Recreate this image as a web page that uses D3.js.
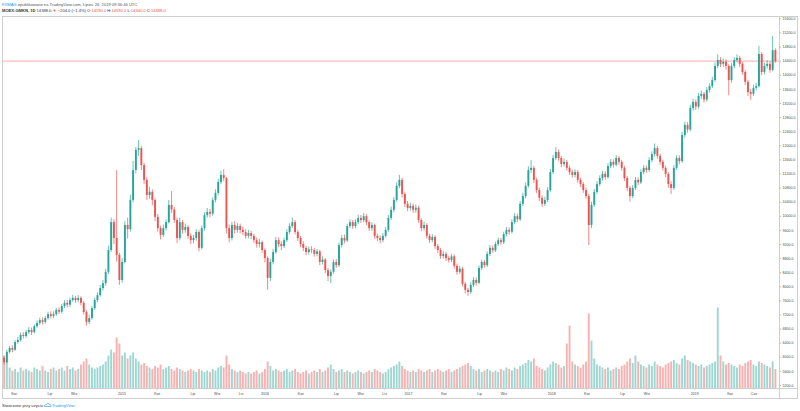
<!DOCTYPE html>
<html><head><meta charset="utf-8">
<script src="https://cdn.jsdelivr.net/npm/d3@7"></script>
<style>body{margin:0;background:#fff}svg{display:block;font-family:"Liberation Sans",Arial,sans-serif}</style>
</head><body><svg id="c" width="800" height="411"></svg>
<script>
// weekly candles, first week starting on this Monday
const firstWeek = "2014-02-24";
const firstOpen = 5900;
const close = [
5970,5850,6140,6250,6200,6420,6480,6620,6590,6700,
6760,6700,6870,6960,7040,6990,7100,7210,7160,7210,
7330,7280,7440,7530,7480,7610,7670,7610,7670,7530,
7270,6990,7100,7380,7610,7750,7950,8090,8410,9030,
9820,9370,8890,8180,8690,9740,9620,10450,11300,11870,
11920,11440,11020,10590,10680,10450,9970,9650,9460,9650,
9820,10310,10180,9880,9370,9820,9600,9680,9430,9310,
9370,9540,9090,9650,10020,10110,10060,10450,10650,10960,
11160,11070,9650,9370,9740,9600,9710,9600,9540,9430,
9510,9430,9310,9200,9250,9030,8800,8240,8690,8970,
9310,9200,9140,9310,9540,9710,9820,9540,9370,9200,
9090,8970,9050,9030,8920,8990,8690,8760,8460,8290,
8410,8690,8600,9170,9370,9300,9710,9820,9710,9820,
9940,9880,9990,9820,9650,9740,9430,9370,9310,9430,
9600,9940,10170,10450,10850,11020,10620,10340,10220,10280,
10170,10230,9880,9650,9740,9430,9310,9400,9140,9030,
8860,8920,8800,8750,8850,8580,8410,8500,8070,7900,
7840,8040,8180,8100,8520,8690,8600,8920,9090,9020,
9200,9310,9250,9480,9600,9550,9820,9990,9900,10340,
10560,10850,11300,11360,11020,10730,10510,10340,10450,10730,
11240,11640,11810,11640,11470,11530,11360,11240,11160,11240,
11020,10900,10730,10560,9740,10310,10680,10900,11070,11190,
11100,11410,11530,11450,11640,11530,11360,11070,10790,10560,
10790,11020,10950,11240,11360,11300,11580,11750,11920,11700,
11530,11360,11190,10900,10790,11360,11640,11550,12290,12580,
12450,13060,13230,13100,13400,13460,13300,13570,13680,13850,
14250,14420,14310,14370,14250,13850,14250,14420,14480,14310,
14080,13800,13510,13460,13630,13680,14590,14080,14250,14310,
14140,14700,14388];
const high = [
6050,6020,6200,6310,6330,6470,6560,6680,6700,6760,
6840,6830,6920,7030,7110,7120,7160,7280,7290,7290,
7390,7400,7500,7600,7610,7680,7760,7730,7750,7720,
7580,7320,7190,7440,7680,7830,8040,8180,8500,9150,
9950,9900,11300,8950,8800,9850,9950,10600,11550,11950,
12150,11980,11500,11100,10820,10750,10500,10050,9720,9750,
9900,10450,10700,10250,9950,9950,9880,9780,9730,9500,
9460,9620,9600,9720,10100,10220,10200,10520,10750,11050,
11280,11320,11100,9750,9830,9850,9800,9780,9700,9620,
9600,9580,9490,9380,9340,9300,9080,8850,8780,9060,
9400,9390,9280,9380,9620,9790,9950,9880,9600,9430,
9280,9150,9130,9140,9090,9060,9040,8850,8800,8520,
8480,8760,8780,9240,9450,9470,9780,9900,9880,9900,
10030,10020,10080,10050,9870,9820,9780,9500,9440,9510,
9680,10020,10260,10530,10950,11160,11080,10680,10420,10370,
10350,10320,10290,9930,9830,9790,9490,9480,9450,9200,
9090,9000,8980,8870,8920,8900,8640,8580,8550,8130,
7960,8120,8260,8250,8590,8760,8750,8990,9170,9160,
9270,9380,9370,9550,9680,9670,9900,10080,10060,10420,
10650,10950,11400,11580,11420,11080,10800,10580,10540,10810,
11330,11730,11950,11880,11700,11620,11590,11420,11310,11320,
11300,11080,10960,10800,10620,10400,10760,10980,11150,11270,
11260,11490,11610,11600,11720,11700,11590,11420,11130,10850,
10870,11100,11090,11320,11440,11430,11660,11830,12050,11980,
11760,11590,11420,11240,10980,11440,11720,11720,12380,12670,
12660,13150,13320,13300,13480,13560,13520,13650,13760,13940,
14350,14580,14500,14460,14440,14300,14330,14500,14580,14540,
14360,14130,13860,13600,13720,13770,14820,14640,14340,14420,
14380,15100,14750];
const low = [
5700,5780,5820,6090,6130,6170,6370,6430,6520,6540,
6650,6620,6660,6820,6900,6920,6940,7050,7090,7100,
7160,7210,7230,7380,7400,7420,7560,7530,7550,7460,
7200,6880,6930,7050,7330,7550,7700,7880,8020,8350,
8980,9200,8700,8040,8100,8650,9350,9550,10380,11200,
11700,11300,10900,10450,10480,10300,9850,9550,9330,9400,
9580,9780,10080,9800,9230,9300,9500,9520,9350,9200,
9220,9300,8990,9040,9580,9950,9960,10000,10380,10580,
10900,10980,9500,9250,9300,9500,9520,9500,9450,9350,
9360,9340,9230,9100,9100,8950,8680,7900,8150,8620,
8920,9110,9030,9080,9260,9480,9650,9470,9280,9110,
9000,8880,8900,8940,8840,8850,8600,8620,8370,8150,
8090,8360,8520,8550,9100,9220,9250,9650,9630,9650,
9760,9800,9820,9740,9570,9580,9350,9280,9220,9250,
9380,9550,9880,10100,10400,10780,10520,10250,10130,10150,
10080,10090,9800,9560,9580,9350,9230,9250,9060,8950,
8780,8790,8720,8670,8690,8500,8330,8350,8000,7800,
7730,7780,7980,8020,8060,8460,8530,8550,8860,8950,
8970,9140,9180,9200,9420,9470,9500,9760,9820,9850,
10280,10490,10800,11220,10930,10640,10420,10250,10280,10390,
10680,11180,11580,11560,11380,11400,11280,11160,11080,11090,
10940,10820,10650,10480,9170,9650,10250,10620,10840,11000,
11020,11050,11350,11370,11400,11450,11280,10990,10700,10400,
10500,10730,10870,10900,11180,11220,11250,11520,11680,11620,
11450,11280,11100,10800,10620,10740,11300,11460,11500,12220,
12360,12400,12980,13000,13040,13320,13210,13240,13500,13620,
13800,14180,14220,14230,14150,13420,13780,14180,14350,14220,
14000,13700,13400,13290,13400,13560,13640,13990,14010,14180,
14060,14100,14340];
const volume = [
1300,1100,900,700,600,650,550,700,600,650,
600,550,700,650,600,750,600,550,650,700,
600,650,700,600,750,650,700,600,650,800,
900,1000,800,700,650,700,750,800,900,1100,
1300,1200,1700,1500,1100,1200,1000,1100,1200,1000,
900,800,850,750,700,650,750,700,800,650,
700,750,650,600,700,650,600,550,600,650,
600,550,650,600,550,600,550,650,600,700,
750,700,1100,800,650,600,550,600,550,500,
550,500,550,600,500,550,650,900,750,600,
650,600,550,600,650,550,600,650,550,500,
550,600,500,550,600,550,650,550,600,700,
800,650,550,600,650,550,600,550,500,550,
600,550,500,550,600,550,650,600,550,500,
550,650,700,750,800,900,750,650,600,550,
600,550,650,600,550,600,650,550,600,650,
600,550,600,650,550,600,650,700,750,800,
850,750,650,600,650,550,600,650,600,550,
600,550,650,600,700,650,600,700,650,750,
800,850,950,900,1000,750,700,650,600,700,
800,900,850,800,700,750,1500,2100,900,800,
750,700,800,900,2500,1600,1000,800,750,700,
650,700,600,650,700,650,750,800,900,1000,
850,1100,900,800,750,700,800,750,900,800,
750,700,800,850,900,950,850,800,1000,1100,
950,900,850,800,750,800,700,750,800,850,
900,2700,1100,900,800,850,800,750,700,800,
750,850,900,950,800,750,900,850,800,750,
700,900,650];
const priceTicks = [5200,5600,6000,6400,6800,7200,7600,8000,8400,8800,9200,9600,10000,10400,10800,11200,11600,12000,12400,12800,13200,13600,14000,14400,14800,15200,15600];
const timeTickDates = ["2014-04-01","2014-07-01","2014-09-01","2015-01-01","2015-04-01","2015-07-01","2015-09-01","2015-11-01","2016-01-01","2016-04-01","2016-07-01","2016-09-01","2016-11-01","2017-01-01","2017-04-01","2017-07-01","2017-09-01","2018-01-01","2018-04-01","2018-07-01","2018-09-01","2019-01-01","2019-04-01","2019-06-01"];
const timeTickLabels = ["Kwi","Lip","Wrz","2015","Kwi","Lip","Wrz","Lis","2016","Kwi","Lip","Wrz","Lis","2017","Kwi","Lip","Wrz","2018","Kwi","Lip","Wrz","2019","Kwi","Cze"];
const lastPrice = 14388;

const UP = "#26a69a", DOWN = "#ef5350";
const svg = d3.select("#c");
svg.append("rect").attr("width",800).attr("height",411).attr("fill","#fff");

const parse = d3.utcParse("%Y-%m-%d");
const DAY = 864e5;
const start = parse(firstWeek);
const data = close.map((c,i)=>({
  date: new Date(start.getTime() + (7*i+3.5)*DAY),
  o: i===0 ? firstOpen : close[i-1], h: high[i], l: low[i], c: c, v: volume[i]
}));

const pL=2, pR=779.5, pT=16.5, axisY=388.5;
const x = d3.scaleUtc().domain([start, parse("2019-07-27")]).range([0, 776]);
const y = d3.scaleLinear().domain([5200, 15200]).range([385, 32.5]);
const yv = d3.scaleLinear().domain([0, 3000]).range([axisY, axisY-90]);

svg.append("clipPath").attr("id","clip").append("rect")
  .attr("x",pL+0.5).attr("y",pT).attr("width",pR-pL-0.5).attr("height",axisY-pT);
const plot = svg.append("g").attr("clip-path","url(#clip)");

const bw = 1.9;
plot.append("g").selectAll("rect").data(data).join("rect")
  .attr("x",d=>x(d.date)-bw/2).attr("width",bw)
  .attr("y",d=>yv(d.v)).attr("height",d=>axisY-yv(d.v))
  .attr("fill",d=>d.c>=d.o?UP:DOWN).attr("opacity",0.45);

plot.append("line").attr("x1",pL).attr("x2",pR)
  .attr("y1",y(lastPrice)).attr("y2",y(lastPrice))
  .attr("stroke",DOWN).attr("stroke-width",0.6).attr("opacity",0.8);

const cg = plot.append("g");
cg.selectAll("line").data(data).join("line")
  .attr("x1",d=>x(d.date)).attr("x2",d=>x(d.date))
  .attr("y1",d=>y(d.h)).attr("y2",d=>y(d.l))
  .attr("stroke",d=>d.c>=d.o?UP:DOWN).attr("stroke-width",0.7);
cg.selectAll("rect").data(data).join("rect")
  .attr("x",d=>x(d.date)-bw/2).attr("width",bw)
  .attr("y",d=>y(Math.max(d.o,d.c)))
  .attr("height",d=>Math.max(0.6, Math.abs(y(d.o)-y(d.c))))
  .attr("fill",d=>d.c>=d.o?UP:DOWN);

const fr = svg.append("g").attr("stroke","#cfcfcf").attr("stroke-width",1).attr("fill","none");
fr.append("rect").attr("x",pL+0.5).attr("y",pT).attr("width",797-pL).attr("height",398.5-pT);
fr.append("line").attr("x1",pL).attr("x2",798).attr("y1",axisY).attr("y2",axisY);
fr.append("line").attr("x1",pR).attr("x2",pR).attr("y1",pT).attr("y2",398.5);

const ya = svg.append("g").attr("transform",`translate(${pR},0)`)
  .call(d3.axisRight(y).tickValues(priceTicks.filter(v=>y(v)>pT+1)).tickSize(1.5).tickPadding(1.5).tickFormat(d3.format(".1f")));
ya.select(".domain").remove();
ya.selectAll("text").attr("font-size",3.6).attr("fill","#4a4a4a").attr("font-family","Liberation Sans, Arial, sans-serif");
ya.selectAll("line").attr("stroke","#bbb");

const tg = svg.append("g");
timeTickDates.forEach((ds,i)=>{
  const tx = x(parse(ds));
  tg.append("line").attr("x1",tx).attr("x2",tx).attr("y1",axisY).attr("y2",axisY+1.5).attr("stroke","#bbb").attr("stroke-width",0.6);
  tg.append("text").attr("x",tx).attr("y",395.3).attr("text-anchor","middle")
    .attr("font-size",3.6).attr("fill","#4a4a4a").text(timeTickLabels[i]);
});

const h1 = svg.append("text").attr("x",2).attr("y",5.8).attr("font-size",4.1).attr("fill","#555");
h1.append("tspan").attr("fill","#2196f3").text("FXMAG");
h1.append("tspan").text(" opublikowano na TradingView.com, Lipiec 26, 2019 09:36:46 UTC");
const h2 = svg.append("text").attr("x",2).attr("y",12).attr("font-size",4.1).attr("fill","#333");
h2.append("tspan").attr("font-weight","bold").text("MOEX:GMKN, 1D");
h2.append("tspan").text(" 14388.0 ");
h2.append("tspan").attr("fill",DOWN).text("▼");
h2.append("tspan").text(" −204.0 (−1.4%) O:");
h2.append("tspan").attr("fill",DOWN).text("14590.0");
h2.append("tspan").text(" H:");
h2.append("tspan").attr("fill",DOWN).text("14590.0");
h2.append("tspan").text(" L:");
h2.append("tspan").attr("fill",DOWN).text("14340.0");
h2.append("tspan").text(" C:");
h2.append("tspan").attr("fill",DOWN).text("14388.0");

svg.append("text").attr("x",2).attr("y",406.5).attr("font-size",4.1).attr("fill","#333").text("Stworzone przy użyciu");
const lg = svg.append("g").attr("transform","translate(44,402.5)");
lg.append("path").attr("d","M0.5,4 C0,2.5 1.5,1.8 2.3,2.3 C2.8,0.5 5.2,0.5 5.6,2.3 C6.8,2 7.5,3.2 6.8,4 Z").attr("fill","none").attr("stroke","#2196f3").attr("stroke-width",0.6);
svg.append("text").attr("x",52).attr("y",406.5).attr("font-size",4.1).attr("fill","#2196f3").text("TradingView");
</script></body></html>
